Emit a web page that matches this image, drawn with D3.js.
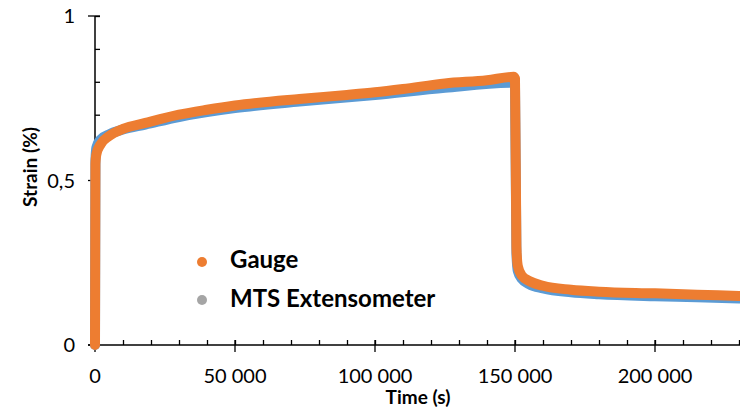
<!DOCTYPE html>
<html>
<head>
<meta charset="utf-8">
<script src="https://cdn.jsdelivr.net/npm/d3@7"></script>
<style>
  body { margin: 0; background: #fff; }
  svg { display: block; font-family: Lato, "Open Sans", sans-serif; }
</style>
</head>
<body>
<div id="chart"></div>
<script>
// values (time in s, strain in %)
var gaugeTime = [0, 150, 500, 2000, 5000, 10000, 18000, 30000, 40000, 50000, 73000, 90000, 100000, 110000, 125000, 140000, 149500, 150000, 150500, 151000, 152500, 155000, 160000, 170000, 180000, 200000, 215000, 230000];
var gaugeStrain = [0, 0.55, 0.58, 0.61, 0.635, 0.657, 0.675, 0.70, 0.715, 0.728, 0.748, 0.76, 0.768, 0.778, 0.795, 0.805, 0.815, 0.81, 0.30, 0.24, 0.21, 0.195, 0.18, 0.168, 0.162, 0.157, 0.153, 0.149];

var mtsTime = [0, 150, 500, 2000, 5000, 10000, 18000, 30000, 50000, 73000, 100000, 125000, 149500, 150000, 150500, 151000, 152500, 155000, 160000, 170000, 180000, 200000, 215000, 230000];
var mtsStrain = [0, 0.56, 0.60, 0.625, 0.64, 0.655, 0.67, 0.693, 0.72, 0.74, 0.76, 0.782, 0.797, 0.79, 0.28, 0.225, 0.20, 0.185, 0.172, 0.16, 0.154, 0.148, 0.145, 0.141];

var xTicks = [0, 50000, 100000, 150000, 200000];
var yTicks = [0, 0.5, 1];
var yTickLabels = ['0', '0,5', '1'];
var legendNames = ['Gauge', 'MTS Extensometer'];
var legendColors = ['#ED7D31', '#A5A5A5'];

var svgWidth = 740;
var svgHeight = 412;

var svg = d3.select('#chart').append('svg')
  .attr('width', svgWidth)
  .attr('height', svgHeight);

var x = d3.scaleLinear().domain([0, 230357]).range([95, 740]);
var y = d3.scaleLinear().domain([0, 1]).range([345, 16]);

var gauge = gaugeTime.map(function(t, i) { return [t, gaugeStrain[i]]; });
var mts = mtsTime.map(function(t, i) { return [t, mtsStrain[i]]; });

// axes
var xAxis = svg.append('g').attr('transform', 'translate(0,345)');
xAxis.call(d3.axisBottom(x).tickValues(d3.range(0, 230001, 10000)).tickSize(-5).tickFormat(''));
xAxis.selectAll('.tick line').attr('stroke', '#000').attr('stroke-width', 1.3);
xAxis.select('.domain').remove();
xAxis.append('line').attr('x1', 88).attr('x2', 740).attr('stroke', '#000').attr('stroke-width', 1.5);
xAxis.selectAll('.major').data(xTicks).enter().append('line')
  .attr('x1', d => x(d)).attr('x2', d => x(d))
  .attr('y1', -5).attr('y2', 7)
  .attr('stroke', '#000').attr('stroke-width', 1.3);
xAxis.selectAll('.xlab').data(xTicks).enter().append('text')
  .attr('x', d => x(d)).attr('y', 38)
  .attr('fill', '#000')
  .attr('text-anchor', 'middle')
  .attr('font-family', 'Lato, sans-serif')
  .attr('font-size', 20)
  .text(d => d3.format(',')(d).replace(/,/g, ' '));

var yAxis = svg.append('g').attr('transform', 'translate(95,0)');
yAxis.call(d3.axisRight(y).tickValues(d3.range(0, 1.01, 0.1)).tickSize(5).tickFormat(''));
yAxis.selectAll('.tick line').attr('stroke', '#000').attr('stroke-width', 1.3);
yAxis.select('.domain').remove();
yAxis.append('line').attr('y1', 16).attr('y2', 345).attr('stroke', '#000').attr('stroke-width', 1.5);
yAxis.selectAll('.major').data(yTicks).enter().append('line')
  .attr('x1', -7).attr('x2', 5)
  .attr('y1', d => y(d)).attr('y2', d => y(d))
  .attr('stroke', '#000').attr('stroke-width', 1.3);
yAxis.selectAll('.ylab').data(yTicks).enter().append('text')
  .attr('x', -20).attr('y', d => y(d))
  .attr('dy', '0.36em')
  .attr('fill', '#000')
  .attr('text-anchor', 'end')
  .attr('font-family', 'Lato, sans-serif')
  .attr('font-size', 20)
  .text((d, i) => yTickLabels[i]);

// axis titles
svg.append('text')
  .attr('x', 418).attr('y', 404)
  .attr('text-anchor', 'middle')
  .attr('font-size', 19).attr('font-weight', 'bold')
  .text('Time (s)');

svg.append('text')
  .attr('transform', 'translate(37,167) rotate(-90)')
  .attr('text-anchor', 'middle')
  .attr('font-size', 19).attr('font-weight', 'bold')
  .text('Strain (%)');

// series
var line = d3.line().x(d => x(d[0])).y(d => y(d[1])).curve(d3.curveMonotoneX);

svg.append('path')
  .datum(mts)
  .attr('d', line)
  .attr('fill', 'none')
  .attr('stroke', '#5B9BD5')
  .attr('stroke-width', 10)
  .attr('stroke-linejoin', 'round')
  .attr('stroke-linecap', 'round');

svg.append('path')
  .datum(gauge)
  .attr('d', line)
  .attr('fill', 'none')
  .attr('stroke', '#ED7D31')
  .attr('stroke-width', 10)
  .attr('stroke-linejoin', 'round')
  .attr('stroke-linecap', 'round');

// legend
var legend = svg.selectAll('.legend').data(legendNames).enter().append('g')
  .attr('transform', (d, i) => 'translate(202,' + (262 + i * 38) + ')');
legend.append('circle').attr('r', 5).attr('fill', (d, i) => legendColors[i]);
legend.append('text')
  .attr('x', 28).attr('y', (d, i) => i === 0 ? 6 : 7)
  .attr('font-size', 24).attr('font-weight', 'bold')
  .text(d => d);
</script>
</body>
</html>
